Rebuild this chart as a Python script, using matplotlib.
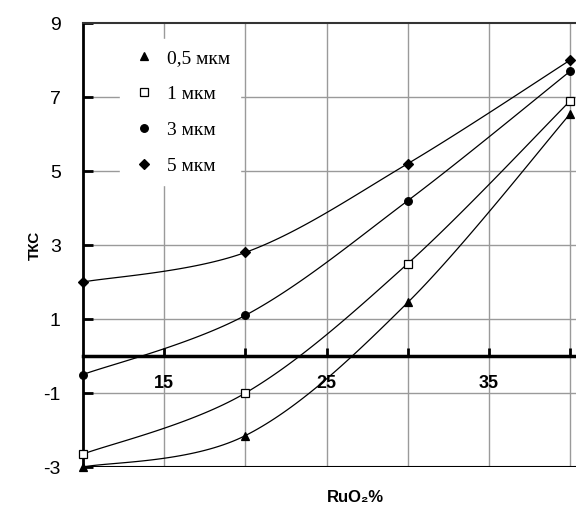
import numpy as np
import matplotlib
matplotlib.use("Agg")
import matplotlib.pyplot as plt
from matplotlib.lines import Line2D

# ---- data ----
x_vals = [10, 20, 30, 40]
series_labels = ["0,5 мкм", "1 мкм", "3 мкм", "5 мкм"]
y_05 = [-3.0, -2.15, 1.45, 6.55]
y_1 = [-2.65, -1.0, 2.5, 6.9]
y_3 = [-0.5, 1.1, 4.2, 7.7]
y_5 = [2.0, 2.8, 5.2, 8.0]
x_ticks = [15, 20, 25, 30, 35, 40]
x_tick_labels = ["15", "", "25", "", "35", ""]
y_ticks = [9, 7, 5, 3, 1, -1, -3]

markers = ["^", "s", "o", "D"]
faces = ["black", "white", "black", "black"]
msizes = [6, 5.5, 5.5, 5]


def smooth(xs, ys, n=40):
    # Catmull-Rom style smoothing (as in spreadsheet "smoothed lines")
    xs = np.asarray(xs, float)
    ys = np.asarray(ys, float)
    P = np.column_stack([xs, ys])
    P = np.vstack([P[0], P, P[-1]])
    out = []
    for i in range(1, len(P) - 2):
        p0, p1, p2, p3 = P[i - 1], P[i], P[i + 1], P[i + 2]
        t = np.linspace(0, 1, n)[:, None]
        c1 = p1 + (p2 - p0) / 6.0
        c2 = p2 - (p3 - p1) / 6.0
        b = ((1 - t) ** 3) * p1 + 3 * ((1 - t) ** 2) * t * c1 + 3 * (1 - t) * t ** 2 * c2 + t ** 3 * p2
        out.append(b)
    out = np.vstack(out)
    return out[:, 0], out[:, 1]


fig = plt.figure(figsize=(5.76, 5.11), dpi=100)
ax = fig.add_axes([83 / 576, 1 - 467 / 511, 1 - 83 / 576, (467 - 23) / 511])

ax.set_xlim(10, 40.35)
ax.set_ylim(-3, 9)

# grid
for xv in x_ticks:
    ax.axvline(xv, color="#9a9a9a", lw=1.0, zorder=0)
for yv in [7, 5, 3, 1, -1]:
    ax.axhline(yv, color="#9a9a9a", lw=1.0, zorder=0)

# spines
ax.spines["right"].set_visible(False)
ax.spines["top"].set_color("#333333")
ax.spines["top"].set_linewidth(1.5)
ax.spines["left"].set_linewidth(2.0)
ax.spines["left"].set_color("black")
ax.spines["bottom"].set_position(("data", 0))
ax.spines["bottom"].set_linewidth(2.5)
ax.spines["bottom"].set_color("black")
ax.axhline(-3, color="black", lw=1.5, zorder=1)

series = [y_05, y_1, y_3, y_5]
for ys, lab, m, fc, ms in zip(series, series_labels, markers, faces, msizes):
    sx, sy = smooth(x_vals, ys)
    ax.plot(sx, sy, color="black", lw=0.9, zorder=3, clip_on=False)
    ax.plot(x_vals, ys, linestyle="none", marker=m, markersize=ms,
            markerfacecolor=fc, markeredgecolor="black", markeredgewidth=0.9,
            zorder=4, clip_on=False)

ax.set_xticks(x_ticks)
ax.set_xticklabels(x_tick_labels, fontsize=13, fontweight="bold",
                   family=["Liberation Sans", "DejaVu Sans"])
ax.set_yticks(y_ticks)
ax.set_yticklabels([str(v) for v in y_ticks], fontsize=14,
                   family=["Liberation Sans", "DejaVu Sans"])
ax.tick_params(axis="x", direction="in", length=6, width=2, pad=14)
ax.tick_params(axis="y", direction="in", length=7, width=2, pad=16)

# legend
handles = [Line2D([], [], linestyle="none", marker=m, markersize=ms,
                  markerfacecolor=fc, markeredgecolor="black", markeredgewidth=0.9)
           for m, fc, ms in zip(markers, faces, msizes)]
leg = ax.legend(handles, series_labels, loc="upper left",
                bbox_to_anchor=(0.055, 0.985), frameon=True, fancybox=False,
                edgecolor="white", facecolor="white", framealpha=1,
                prop={"family": ["Liberation Serif", "DejaVu Serif"], "size": 14},
                labelspacing=0.95, handletextpad=0.45, handlelength=1.5,
                borderpad=0.5)
leg.set_zorder(5)

fig.text(35 / 576, 1 - 245 / 511, "ТКС", rotation=90, ha="center", va="center",
         fontsize=11, fontweight="bold", family=["Liberation Sans", "DejaVu Sans"])
fig.text(355 / 576, 1 - 498 / 511, "RuO₂%", ha="center", va="center",
         fontsize=12, fontweight="bold", family=["Liberation Sans", "DejaVu Sans"])

fig.savefig("out.png", dpi=100)
